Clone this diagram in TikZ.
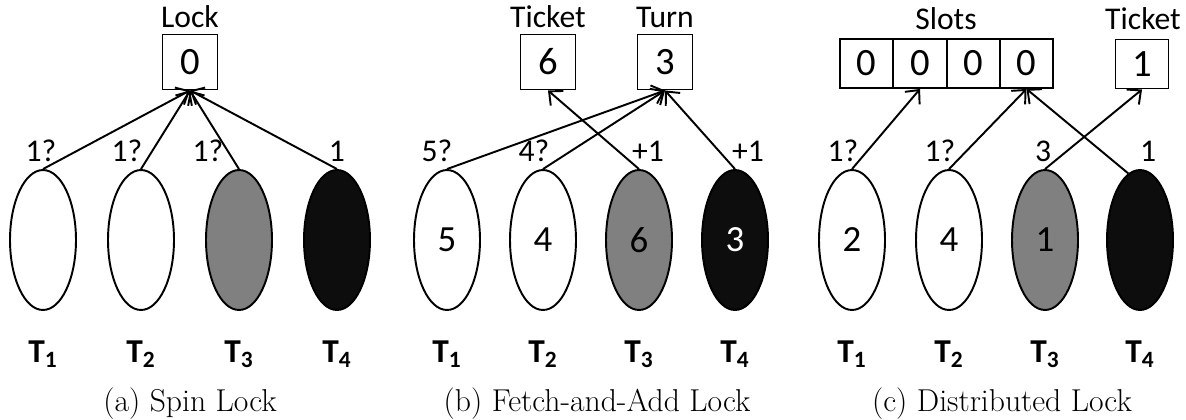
\documentclass[tikz,border=0pt]{standalone}
\usepackage{fontspec}
\newfontfamily\calibri{Carlito}
\usetikzlibrary{shapes.geometric,arrows.meta}

\begin{document}
\begin{tikzpicture}[x=0.02cm, y=-0.02cm, line width=1.1pt,
    >={Straight Barb[length=6pt,width=11pt]},
    every node/.style={font=\calibri\fontsize{18}{21}\selectfont},
    thread/.style={draw, ellipse, minimum width=1.32cm, minimum height=2.8cm, inner sep=0pt, font=\calibri\fontsize{21}{24}\selectfont},
    cell/.style={draw, minimum width=1.1cm, minimum height=1.1cm, inner sep=0pt, font=\calibri\fontsize{22}{25}\selectfont},
    slot/.style={cell, minimum width=1.06cm, minimum height=0.98cm},
    tid/.style={font=\calibri\bfseries\fontsize{19}{22}\selectfont},
    caption/.style={font=\fontsize{18}{21}\selectfont}]
    \useasboundingbox (0,0) rectangle (1186,419);

    % (a) Spin lock
    \node (locklbl) at (190,17) {Lock};
    \node[cell] (lock) at (190,62) {0};
    \node[thread] (a1) at (43,240) {};
    \node[thread] (a2) at (141,240) {};
    \node[thread, fill=gray] (a3) at (239,240) {};
    \node[thread, fill=black!95] (a4) at (337,240) {};
    \node (qa1) at (41,151) {1?};
    \node (qa2) at (127,151) {1?};
    \node (qa3) at (208,151) {1?};
    \node (qa4) at (337,151) {1};
    \draw[->] (a1.north) -- (lock.south);
    \draw[->] (a2.north) -- (lock.south);
    \draw[->] (a3.north) -- (lock.south);
    \draw[->] (a4.north) -- (lock.south);
    \node[tid] (ta1) at (43,354) {T\textsubscript{1}};
    \node[tid] (ta2) at (141,354) {T\textsubscript{2}};
    \node[tid] (ta3) at (239,354) {T\textsubscript{3}};
    \node[tid] (ta4) at (337,354) {T\textsubscript{4}};
    \node[caption] (capa) at (190,404) {(a) Spin Lock};

    % (b) Fetch-and-add lock
    \node (ticketlbl) at (548,17) {Ticket};
    \node (turnlbl) at (665,17) {Turn};
    \node[cell] (ticket) at (548,62) {6};
    \node[cell] (turn) at (665,62) {3};
    \node[thread] (b1) at (447,240) {5};
    \node[thread] (b2) at (543,240) {4};
    \node[thread, fill=gray] (b3) at (639,240) {6};
    \node[thread, fill=black!95, text=white] (b4) at (735,240) {3};
    \node (qb1) at (437,151) {5?};
    \node (qb2) at (534,151) {4?};
    \node (qb3) at (648,151) {+1};
    \node (qb4) at (748,151) {+1};
    \draw[->] (b1.north) -- (turn.south);
    \draw[->] (b2.north) -- (turn.south);
    \draw[->] (b3.north) -- (ticket.south);
    \draw[->] (b4.north) -- (turn.south);
    \node[tid] (tb1) at (447,354) {T\textsubscript{1}};
    \node[tid] (tb2) at (543,354) {T\textsubscript{2}};
    \node[tid] (tb3) at (639,354) {T\textsubscript{3}};
    \node[tid] (tb4) at (735,354) {T\textsubscript{4}};
    \node[caption] (capb) at (597,404) {(b) Fetch-and-Add Lock};

    % (c) Distributed lock
    \node (slotslbl) at (946,19) {Slots};
    \node (dticketlbl) at (1143,19) {Ticket};
    \node[slot] (s1) at (866.5,63.5) {0};
    \node[slot] (s2) at (920,63.5) {0};
    \node[slot] (s3) at (973.5,63.5) {0};
    \node[slot] (s4) at (1026.5,63.5) {0};
    \node[slot] (dticket) at (1142,64) {1};
    \node[thread] (c1) at (852,240) {2};
    \node[thread] (c2) at (949,240) {4};
    \node[thread, fill=gray] (c3) at (1045,240) {1};
    \node[thread, fill=black!95] (c4) at (1140,240) {};
    \node (qc1) at (843,151) {1?};
    \node (qc2) at (940,151) {1?};
    \node (qc3) at (1043,151) {3};
    \node (qc4) at (1148,151) {1};
    \draw[->] (c1.north) -- (s2.south);
    \draw[->] (c2.north) -- (s4.south);
    \draw[->] (c3.north) -- (dticket.south);
    \draw[->] (c4.100) -- (s4.south);
    \node[tid] (tc1) at (852,354) {T\textsubscript{1}};
    \node[tid] (tc2) at (949,354) {T\textsubscript{2}};
    \node[tid] (tc3) at (1045,354) {T\textsubscript{3}};
    \node[tid] (tc4) at (1140,354) {T\textsubscript{4}};
    \node[caption] (capc) at (1002,404) {(c) Distributed Lock};
\end{tikzpicture}
\end{document}
